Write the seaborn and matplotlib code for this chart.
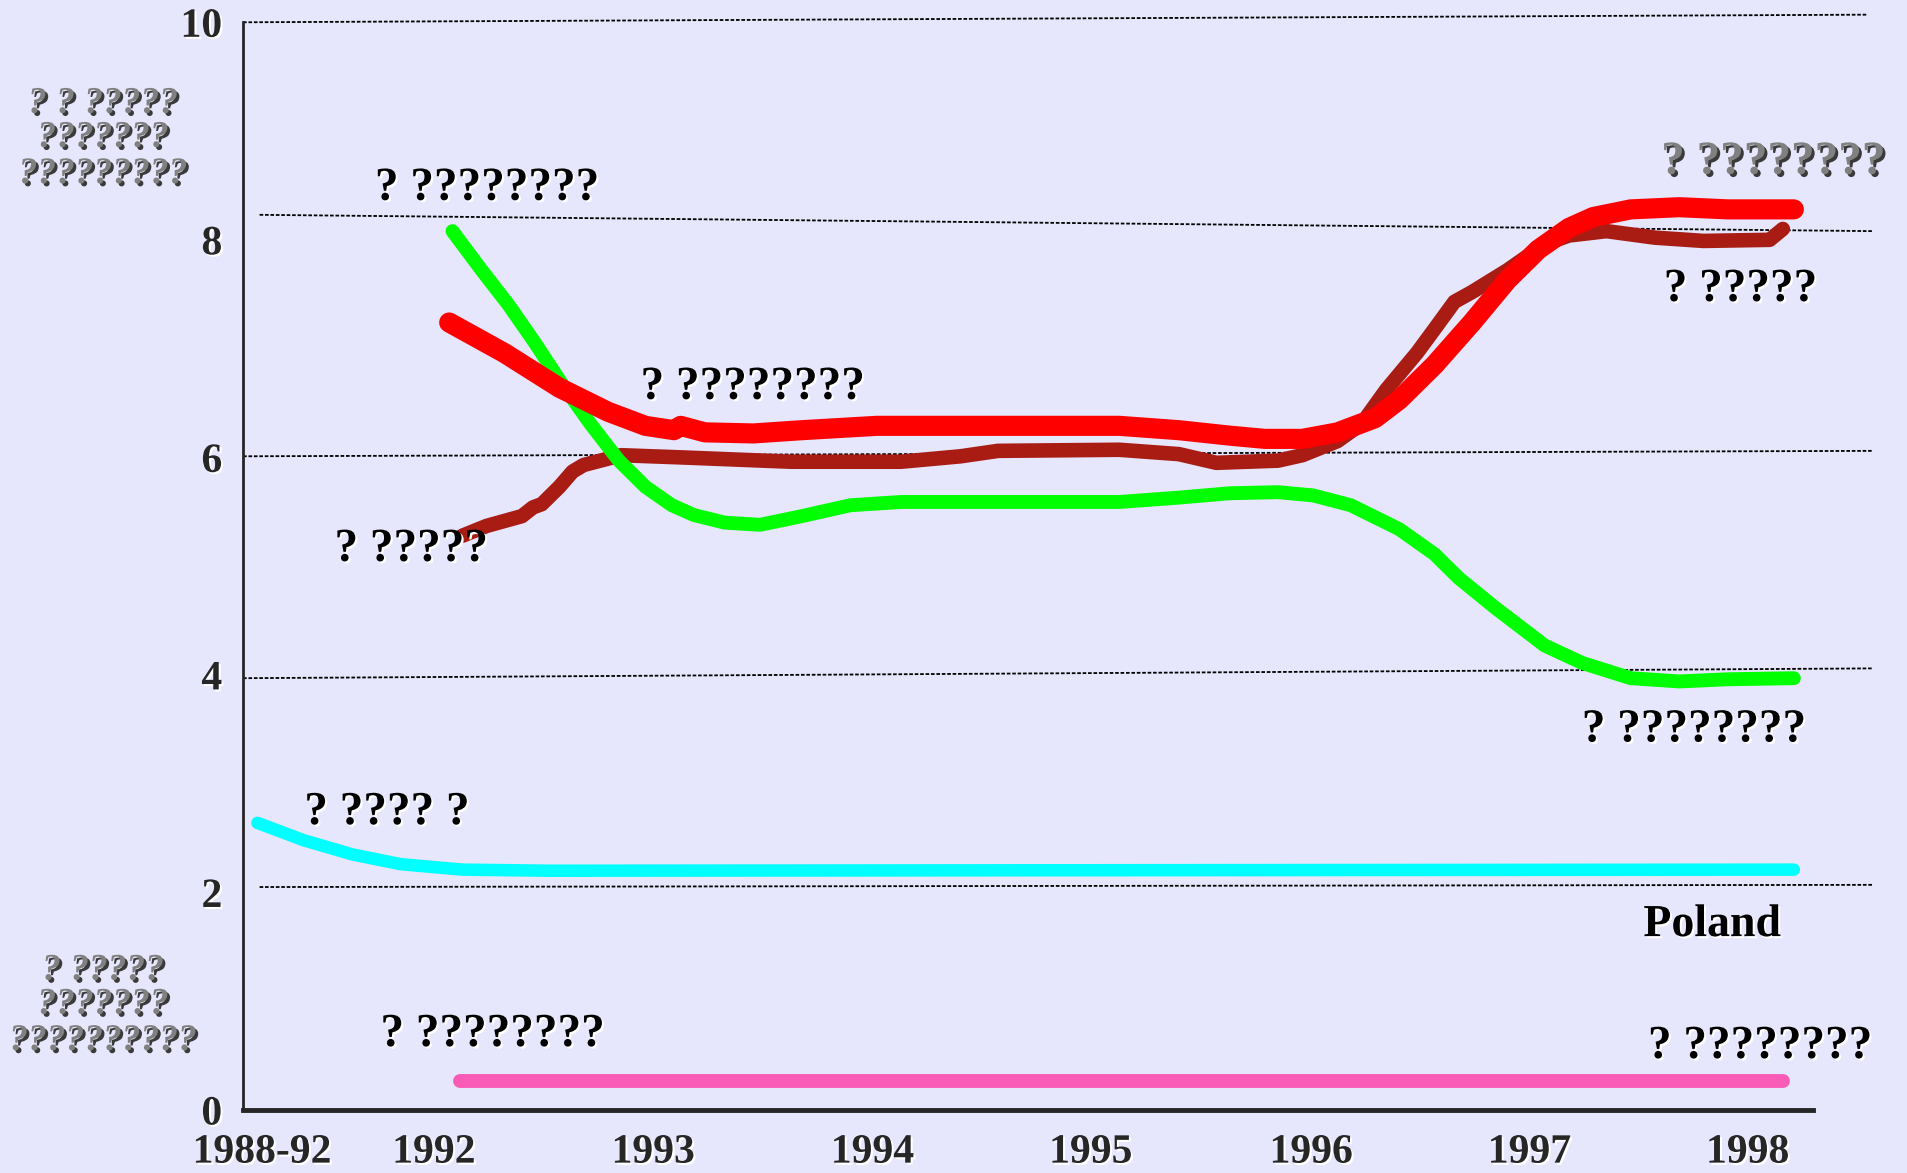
import numpy as np
import pandas as pd
import seaborn as sns
import matplotlib.pyplot as plt
import matplotlib.patheffects as pe

# x: 0 = start of 1992, 1 = start of 1993, ... ; 1988-92 sits left of 0
green_x = [0.475, 0.60, 0.73, 0.85, 0.97, 1.10, 1.23, 1.35, 1.47, 1.57, 1.71, 1.87, 2.06, 2.28, 2.51,
           2.84, 3.17, 3.50, 3.77, 4.00, 4.22, 4.38, 4.55, 4.77, 4.93, 5.04, 5.21, 5.43, 5.60, 5.82,
           6.04, 6.26, 6.56]
green_y = [8.08, 7.74, 7.40, 7.05, 6.68, 6.31, 5.97, 5.73, 5.56, 5.47, 5.40, 5.38, 5.46, 5.56, 5.59,
           5.59, 5.59, 5.59, 5.63, 5.67, 5.68, 5.65, 5.56, 5.34, 5.11, 4.89, 4.61, 4.27, 4.11, 3.97,
           3.94, 3.96, 3.97]

red_x = [0.46, 0.71, 0.96, 1.18, 1.35, 1.48, 1.51, 1.62, 1.84, 2.06, 2.40, 2.84, 3.50, 3.77, 4.00,
         4.16, 4.33, 4.49, 4.66, 4.77, 4.93, 5.10, 5.26, 5.40, 5.54, 5.65, 5.82, 6.04, 6.26, 6.56]
red_y = [7.24, 6.96, 6.64, 6.42, 6.29, 6.25, 6.29, 6.23, 6.22, 6.25, 6.29, 6.29, 6.29, 6.25, 6.20,
         6.17, 6.17, 6.23, 6.36, 6.53, 6.85, 7.24, 7.63, 7.91, 8.11, 8.21, 8.28, 8.30, 8.28, 8.28]

brown_x = [0.52, 0.63, 0.79, 0.84, 0.88, 0.96, 1.02, 1.07, 1.24, 1.51, 2.01, 2.51, 2.78, 2.95, 3.50,
           3.77, 3.94, 4.22, 4.33, 4.49, 4.60, 4.71, 4.85, 4.93, 5.02, 5.10, 5.26, 5.43, 5.54, 5.71,
           5.93, 6.15, 6.45, 6.51]
brown_y = [5.28, 5.37, 5.46, 5.54, 5.57, 5.73, 5.87, 5.93, 6.02, 6.00, 5.96, 5.96, 6.01, 6.06, 6.07,
           6.03, 5.95, 5.97, 6.02, 6.15, 6.31, 6.62, 6.96, 7.18, 7.43, 7.52, 7.72, 7.96, 8.04, 8.08,
           8.02, 7.99, 8.00, 8.10]

cyan_x = [-0.41, -0.20, 0.02, 0.24, 0.52, 0.91, 6.56]
cyan_y = [2.64, 2.48, 2.35, 2.26, 2.21, 2.20, 2.21]

pink_x = [0.51, 6.51]
pink_y = [0.27, 0.27]

year_labels = ["1988-92", "1992", "1993", "1994", "1995", "1996", "1997", "1998"]
year_label_pos = [-0.39, 0.39, 1.385, 2.38, 3.37, 4.37, 5.36, 6.35]
year_ticks = [0, 1, 2, 3, 4, 5, 6]

# hand-drawn grid lines: level at left end, level at right end
grid_left = [2.05, 3.97, 6.01, 8.23, 10.0]
grid_right = [2.07, 4.06, 6.06, 8.08, 10.07]
grid_x0 = [-0.40, -0.475, -0.475, -0.40, -0.475]
grid_x1 = [6.92, 6.92, 6.92, 6.92, 6.89]

sns.set_style("white")
plt.rcParams['font.family'] = ['Liberation Serif', 'DejaVu Serif']
plt.rcParams['font.weight'] = 'bold'

bg = "#E6E6FC"
fig = plt.figure(figsize=(19.08, 11.73), dpi=100, facecolor=bg)
ax = fig.add_axes([0.1274, 0.0537, 0.8226, 0.9273])
ax.set_facecolor(bg)

for x0, x1, l, r in zip(grid_x0, grid_x1, grid_left, grid_right):
    ax.plot([x0, x1], [l, r], color="black", lw=1.3, ls=(0, (2, 1)), clip_on=False, zorder=1)

sns.lineplot(x=cyan_x, y=cyan_y, ax=ax, color="#00FFFF", lw=9, solid_capstyle="round", zorder=3)
sns.lineplot(x=pink_x, y=pink_y, ax=ax, color="#F95BB7", lw=10, solid_capstyle="round", zorder=3)
sns.lineplot(x=brown_x, y=brown_y, ax=ax, color="#A81C14", lw=10.5, solid_capstyle="round", zorder=3)
sns.lineplot(x=green_x, y=green_y, ax=ax, color="#00FF00", lw=10, solid_capstyle="round", zorder=4)
sns.lineplot(x=red_x, y=red_y, ax=ax, color="#FF0000", lw=14.5, solid_capstyle="round", zorder=5)

ax.set_xlim(-0.475, 6.645)
ax.set_ylim(0, 10)
for s in ["top", "right"]:
    ax.spines[s].set_visible(False)
ax.spines["left"].set_linewidth(2)
ax.spines["bottom"].set_linewidth(3.5)

ax.set_yticks([0, 2, 4, 6, 8, 10])
ax.set_yticklabels(["0", "2", "4", "6", "8", "10"])
ax.tick_params(axis="y", direction="out", length=7, width=2.5, pad=8, labelsize=30)

ax.set_xticks(year_ticks)
ax.set_xticklabels([""] * len(year_ticks))
ax.tick_params(axis="x", which="major", direction="inout", length=22, width=1.5)
ax.set_xticks(year_label_pos, minor=True)
ax.set_xticklabels(year_labels, minor=True)
ax.tick_params(axis="x", which="minor", length=0, pad=17, labelsize=30)

white_sh = [pe.SimplePatchShadow(offset=(1.5, -1.5), shadow_rgbFace="white", alpha=1), pe.Normal()]
gray_sh = [pe.SimplePatchShadow(offset=(2, -2), shadow_rgbFace="#3a3a3a", alpha=1), pe.Normal()]

for lab in ax.get_yticklabels() + ax.get_xticklabels(minor=True):
    lab.set_path_effects(white_sh)

black_labels = [
    (0.635, 8.47, "? ????????"),
    (1.84, 6.64, "? ????????"),
    (0.29, 5.15, "? ?????"),
    (0.18, 2.73, "? ???? ?"),
    (0.66, 0.69, "? ????????"),
    (6.41, 0.58, "? ????????"),
    (6.11, 3.49, "? ????????"),
    (6.32, 7.54, "? ?????"),
]
for x, y, t in black_labels:
    ax.text(x, y, t, ha="center", va="center", fontsize=34, fontweight="bold",
            color="black", path_effects=white_sh, zorder=6)

ax.text(6.19, 1.70, "Poland", ha="center", va="center", fontsize=33, fontweight="bold",
        color="black", path_effects=white_sh, zorder=6)
ax.text(6.47, 8.71, "? ????????", ha="center", va="center", fontsize=34, fontweight="bold",
        color="#808080", path_effects=gray_sh, zorder=6, clip_on=False)

side_top = ["? ? ?????", "???????", "?????????"]
side_bottom = ["? ?????", "???????", "??????????"]
for t, y in zip(side_top, [0.912, 0.883, 0.852]):
    fig.text(0.054, y, t, ha="center", va="center", fontsize=27, fontweight="bold",
             style="italic", color="#808080", path_effects=gray_sh)
for t, y in zip(side_bottom, [0.173, 0.144, 0.113]):
    fig.text(0.054, y, t, ha="center", va="center", fontsize=27, fontweight="bold",
             style="italic", color="#808080", path_effects=gray_sh)

fig.savefig("out.png", dpi=100, facecolor=bg)
